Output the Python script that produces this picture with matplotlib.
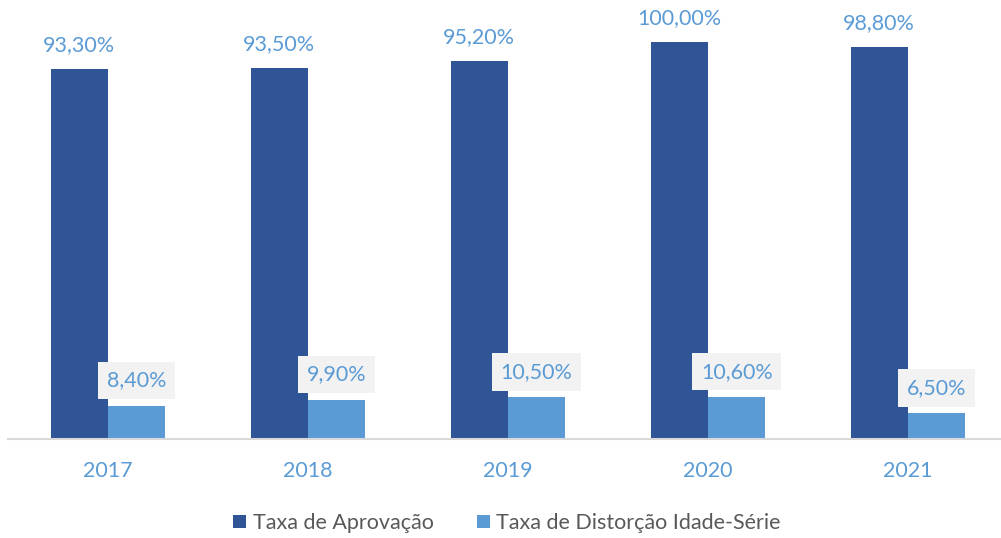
import matplotlib.pyplot as plt
import numpy as np

anos = ['2017', '2018', '2019', '2020', '2021']
aprovacao = [93.3, 93.5, 95.2, 100.0, 98.8]
distorcao = [8.4, 9.9, 10.5, 10.6, 6.5]

escuro = '#2F5597'
claro = '#5B9BD5'

plt.rcParams['font.family'] = ['Lato', 'DejaVu Sans']

fig = plt.figure(figsize=(10.01, 5.38), dpi=100)
ax = fig.add_axes([8 / 1001, 99 / 538, 1000 / 1001, 439 / 538])

x = np.arange(len(anos))
w = 0.287
b1 = ax.bar(x - w / 2, aprovacao, w, color=escuro, label='Taxa de Aprovação')
b2 = ax.bar(x + w / 2, distorcao, w, color=claro, label='Taxa de Distorção Idade-Série')

def fmt(v):
    return f'{v:.2f}%'.replace('.', ',')

for xi, v in zip(x, aprovacao):
    ax.annotate(fmt(v), (xi - w / 2, v), xytext=(0, 10), textcoords='offset points',
                ha='center', va='bottom', color=claro, fontsize=15.5, annotation_clip=False)
for xi, v in zip(x, distorcao):
    ax.annotate(fmt(v), (xi + w / 2, v), xytext=(0, 11), textcoords='offset points',
                ha='center', va='bottom', color=claro, fontsize=15.5,
                bbox=dict(boxstyle='square,pad=0.4', fc='#F2F2F2', ec='none'))

ax.set_xlim(-0.5, len(anos) - 0.5)
ax.set_ylim(0, 110.6)
ax.set_xticks(x)
ax.set_xticklabels(anos, color=claro, fontsize=15.5)
ax.tick_params(axis='x', length=0, pad=16)
ax.set_yticks([])
for s in ['top', 'left', 'right']:
    ax.spines[s].set_visible(False)
ax.spines['bottom'].set_color('#D9D9D9')
ax.spines['bottom'].set_linewidth(1.5)
ax.spines['bottom'].set_bounds(-0.5, 4.46)

leg = fig.legend(loc='center', bbox_to_anchor=(507 / 1001, 1 - 523 / 538), ncol=2,
                 frameon=False, fontsize=15.5, handlelength=0.6, handleheight=0.6,
                 handletextpad=0.3, columnspacing=2.0)
for t in leg.get_texts():
    t.set_color('#595959')

fig.savefig('out.png', dpi=100)
